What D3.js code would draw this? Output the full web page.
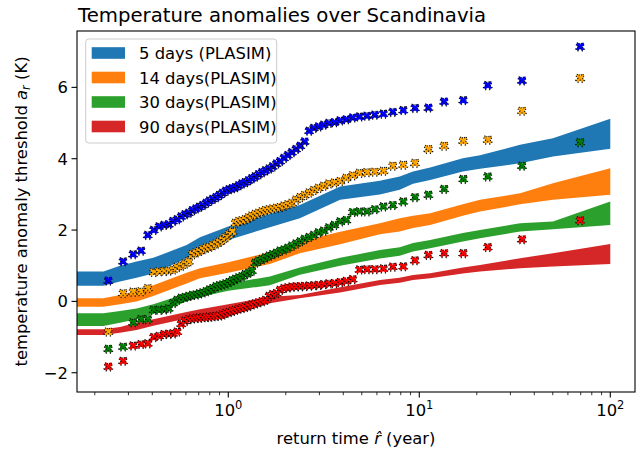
<!DOCTYPE html>
<html><head><meta charset="utf-8">
<script src="https://cdn.jsdelivr.net/npm/d3@7"></script>
<style>body{margin:0;background:#fff} svg{font-family:"DejaVu Sans",sans-serif;}</style>
</head><body><svg id="c" width="639" height="454"></svg>
<script>
// ---- data ----
const returnTimes = [0.2354,0.2813,0.3175,0.3494,0.3789,0.4070,0.4343,0.4610,0.4875,0.5139,
0.5404,0.5670,0.5940,0.6213,0.6492,0.6776,0.7066,0.7363,0.7668,0.7982,
0.8306,0.8640,0.8985,0.9342,0.9712,1.010,1.050,1.091,1.135,1.180,
1.228,1.278,1.330,1.385,1.443,1.504,1.568,1.637,1.710,1.787,
1.869,1.958,2.052,2.154,2.263,2.382,2.510,2.650,2.804,2.972,
3.158,3.364,3.594,3.853,4.147,4.481,4.868,5.318,5.849,6.487,
7.266,8.240,9.491,11.16,13.49,16.99,22.83,34.50,69.50];
const pts5 = [0.58,1.12,1.32,1.42,1.86,2.00,2.10,2.14,2.16,2.25,
2.30,2.38,2.44,2.48,2.55,2.60,2.65,2.70,2.76,2.82,
2.87,2.92,2.98,3.04,3.10,3.14,3.17,3.20,3.25,3.30,
3.34,3.39,3.45,3.50,3.56,3.62,3.67,3.72,3.78,3.86,
3.93,4.02,4.10,4.18,4.27,4.36,4.48,4.78,4.86,4.90,
4.95,5.00,5.02,5.07,5.10,5.15,5.18,5.20,5.23,5.26,
5.31,5.36,5.42,5.43,5.60,5.64,6.06,6.19,7.14];
const pts14 = [-0.85,0.23,0.27,0.28,0.37,0.82,0.84,0.85,0.86,0.89,
0.96,1.00,1.06,1.12,1.32,1.37,1.41,1.46,1.50,1.53,
1.57,1.62,1.67,1.73,1.80,1.88,1.96,2.20,2.25,2.27,
2.30,2.35,2.40,2.45,2.48,2.52,2.56,2.58,2.60,2.62,
2.64,2.68,2.72,2.76,2.85,2.92,2.98,3.05,3.12,3.18,
3.24,3.30,3.33,3.37,3.46,3.53,3.60,3.62,3.63,3.66,
3.80,3.83,3.88,4.27,4.36,4.50,4.53,5.34,6.26];
const pts30 = [-1.33,-1.27,-0.59,-0.50,-0.50,-0.24,-0.24,-0.23,-0.20,-0.05,
0.04,0.10,0.12,0.15,0.18,0.19,0.22,0.25,0.28,0.33,
0.37,0.42,0.45,0.47,0.50,0.54,0.59,0.63,0.67,0.70,
0.76,0.80,0.86,1.08,1.14,1.18,1.23,1.28,1.32,1.36,
1.42,1.45,1.50,1.56,1.62,1.68,1.75,1.80,1.86,1.93,
1.98,2.07,2.14,2.24,2.28,2.50,2.52,2.52,2.58,2.66,
2.70,2.80,2.92,2.99,3.15,3.43,3.50,3.80,4.46];
const pts90 = [-1.83,-1.67,-1.24,-1.20,-1.18,-1.00,-0.97,-0.92,-0.91,-0.90,
-0.85,-0.63,-0.55,-0.50,-0.48,-0.47,-0.46,-0.45,-0.44,-0.43,
-0.42,-0.41,-0.40,-0.37,-0.33,-0.30,-0.27,-0.24,-0.21,-0.19,
-0.16,-0.13,-0.09,-0.06,-0.03,0.00,0.04,0.15,0.20,0.23,
0.32,0.37,0.39,0.41,0.42,0.42,0.43,0.44,0.45,0.46,
0.48,0.50,0.51,0.54,0.57,0.62,0.89,0.90,0.90,0.92,
0.97,0.98,1.15,1.30,1.35,1.35,1.52,1.74,2.27];

const bandX = [0.16,0.222,0.271,0.331,0.405,0.605,0.711,1.0,1.65,2.37,3.85,6.22,7.9,9.27,11.4,16.9,20.8,33.7,50.1,100];
const band5Lo = [0.44,0.44,0.56,0.66,0.78,1.20,1.42,1.72,2.08,2.33,2.85,3.00,3.13,3.30,3.40,3.64,3.72,3.87,4.06,4.28];
const band5Hi = [0.84,0.84,1.00,1.12,1.22,1.58,1.80,2.10,2.45,2.70,3.22,3.38,3.50,3.64,3.75,4.01,4.10,4.39,4.57,5.12];
const band14Lo = [-0.15,-0.15,-0.08,0.00,0.15,0.50,0.65,0.80,1.05,1.35,1.60,1.88,1.96,2.06,2.14,2.40,2.52,2.72,2.85,2.99];
const band14Hi = [0.09,0.09,0.18,0.30,0.45,0.80,0.93,1.10,1.38,1.68,1.95,2.19,2.33,2.40,2.47,2.72,2.85,3.03,3.31,3.73];
const band30Lo = [-0.69,-0.69,-0.60,-0.50,-0.35,0.00,0.12,0.30,0.45,0.75,1.00,1.20,1.28,1.40,1.49,1.68,1.77,1.96,2.02,2.14];
const band30Hi = [-0.33,-0.33,-0.27,-0.20,-0.08,0.22,0.33,0.50,0.70,0.95,1.22,1.44,1.52,1.64,1.72,1.92,2.00,2.19,2.24,2.80];
const band90Lo = [-0.94,-0.94,-0.88,-0.80,-0.68,-0.48,-0.40,-0.25,-0.05,0.09,0.25,0.46,0.52,0.60,0.65,0.78,0.84,0.93,0.98,1.05];
const band90Hi = [-0.78,-0.78,-0.72,-0.60,-0.50,-0.30,-0.22,-0.08,0.13,0.18,0.40,0.60,0.66,0.74,0.79,0.95,1.02,1.21,1.35,1.61];

const legendLabels = ["5 days (PLASIM)","14 days(PLASIM)","30 days(PLASIM)","90 days(PLASIM)"];
const yTicks = [-2,0,2,4,6];
const xTicks = [1,10,100];
const xLimits = [0.1614,134.7];
const yLimits = [-2.54,7.58];

// ---- layout ----
const L=77,R=635,T=31,B=392;
const svg = d3.select("#c");
const x = d3.scaleLog().domain(xLimits).range([L,R]);
const y = d3.scaleLinear().domain(yLimits).range([B,T]);

svg.append("defs").append("clipPath").attr("id","clip")
  .append("rect").attr("x",L).attr("y",T).attr("width",R-L).attr("height",B-T);

const bandColors = ["#1f77b4","#ff7f0e","#2ca02c","#d62728"];
const ptColors = ["#0000ff","#ffa500","#008000","#ff0000"];
const bands = [[band5Lo,band5Hi],[band14Lo,band14Hi],[band30Lo,band30Hi],[band90Lo,band90Hi]];
const pts = [pts5,pts14,pts30,pts90];

const plot = svg.append("g").attr("clip-path","url(#clip)");
const area = d3.area().x(d=>x(d.x)).y0(d=>y(d.lo)).y1(d=>y(d.hi));
bands.forEach((b,i)=>{
  const data = bandX.map((xv,j)=>({x:xv,lo:b[0][j],hi:b[1][j]}));
  plot.append("path").datum(data).attr("d",area).attr("fill",bandColors[i]).attr("stroke","none");
});

// X marker polygon
const s=4.6,t=1.5;
const plus = [[-t,s],[t,s],[t,t],[s,t],[s,-t],[t,-t],[t,-s],[-t,-s],[-t,-t],[-s,-t],[-s,t],[-t,t]];
const c45=Math.SQRT1_2;
const xPoly = plus.map(([a,b])=>[(a-b)*c45,(a+b)*c45]);
const xPath = "M"+xPoly.map(p=>p[0].toFixed(2)+","+p[1].toFixed(2)).join("L")+"Z";

pts.forEach((p,i)=>{
  plot.append("g").selectAll("path").data(p).join("path")
    .attr("d",xPath)
    .attr("transform",(d,j)=>`translate(${x(returnTimes[j])},${y(d)})`)
    .attr("fill",ptColors[i]).attr("stroke","#000").attr("stroke-width",1.2)
    .attr("stroke-dasharray","1,1.8");
});

// axes frame
svg.append("rect").attr("x",L).attr("y",T).attr("width",R-L).attr("height",B-T)
  .attr("fill","none").attr("stroke","#000").attr("stroke-width",1.1);

const fs=16.4;
// y ticks
const yg = svg.append("g");
yTicks.forEach(v=>{
  yg.append("line").attr("x1",L-5.5).attr("x2",L).attr("y1",y(v)).attr("y2",y(v)).attr("stroke","#000").attr("stroke-width",1.1);
  yg.append("text").attr("x",L-9).attr("y",y(v)).attr("dy","0.36em").attr("text-anchor","end")
    .attr("font-size",fs).text(v<0?"\u2212"+Math.abs(v):String(v));
});
// x ticks
const xg = svg.append("g");
xTicks.forEach(v=>{
  xg.append("line").attr("x1",x(v)).attr("x2",x(v)).attr("y1",B).attr("y2",B+5.5).attr("stroke","#000").attr("stroke-width",1.1);
  const tx = xg.append("text").attr("x",x(v)).attr("y",B+24).attr("text-anchor","middle").attr("font-size",fs);
  tx.append("tspan").text("10");
  tx.append("tspan").attr("dy",-7).attr("font-size",fs*0.7).text(String(Math.round(Math.log10(v))));
});
const minor=[];
[0.1,1,10].forEach(d=>{for(let k=2;k<=9;k++){const v=d*k; if(v>=xLimits[0]&&v<=xLimits[1]) minor.push(v);}});
minor.forEach(v=>{
  xg.append("line").attr("x1",x(v)).attr("x2",x(v)).attr("y1",B).attr("y2",B+3.2).attr("stroke","#000").attr("stroke-width",0.8);
});

// labels
const xl = svg.append("text").attr("x",(L+R)/2).attr("y",B+52).attr("text-anchor","middle").attr("font-size",fs);
xl.append("tspan").text("return time ");
xl.append("tspan").attr("font-style","italic").text("r\u0302");
xl.append("tspan").text(" (year)");

const yl = svg.append("text").attr("transform",`translate(${27},${(T+B)/2}) rotate(-90)`).attr("text-anchor","middle").attr("font-size",fs);
yl.append("tspan").text("temperature anomaly threshold ");
yl.append("tspan").attr("font-style","italic").text("a");
yl.append("tspan").attr("font-style","italic").attr("font-size",fs*0.7).attr("dy",3).text("r");
yl.append("tspan").attr("dy",-3).text(" (K)");

svg.append("text").attr("x",L+1).attr("y",T-9).attr("font-size",19.7).text("Temperature anomalies over Scandinavia");

// legend
const lg = svg.append("g");
lg.append("rect").attr("x",85.7).attr("y",39).attr("width",191).attr("height",104).attr("rx",3)
  .attr("fill","#fff").attr("fill-opacity",0.8).attr("stroke","#cccccc").attr("stroke-width",1);
legendLabels.forEach((lab,i)=>{
  const cy = 53 + i*24.5;
  lg.append("rect").attr("x",91.7).attr("y",cy-5.8).attr("width",33.3).attr("height",11.6).attr("fill",bandColors[i]);
  lg.append("text").attr("x",139).attr("y",cy+6).attr("font-size",fs).text(lab);
});
</script></body></html>
